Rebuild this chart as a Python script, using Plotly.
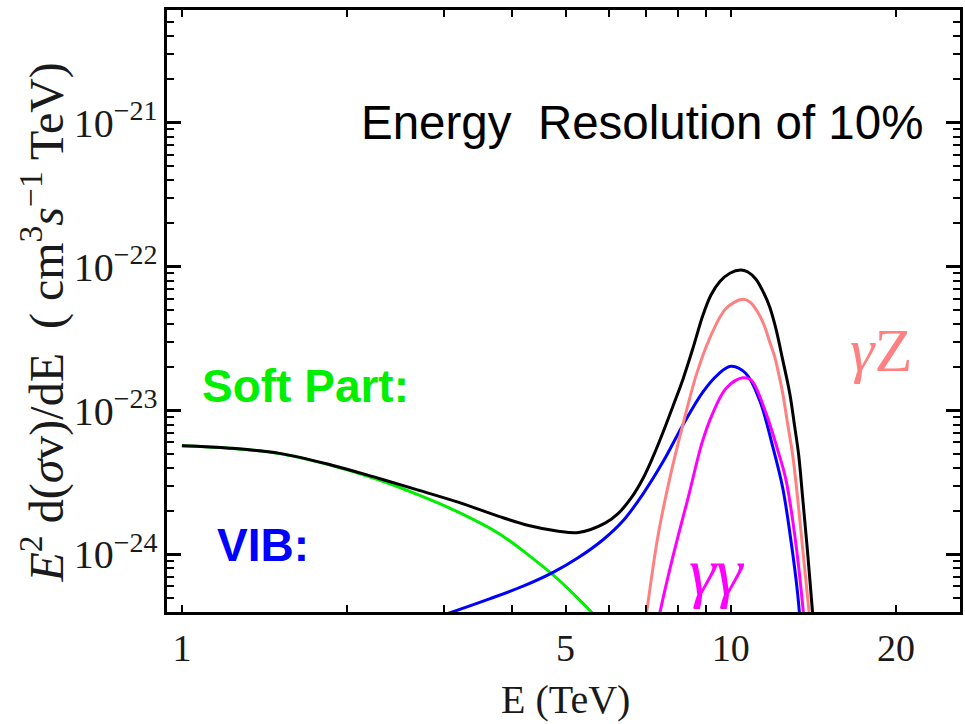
import plotly.graph_objects as go

# Photon energy (TeV) and E^2 d(sigma v)/dE (cm^3 s^-1 TeV) for each spectral component
total_E = [1.00, 1.222, 1.506, 1.856, 2.288, 2.704, 3.195, 3.777, 4.280, 4.853, 5.276,
           5.900, 6.236, 6.584, 6.924, 7.219, 7.527, 7.848, 8.183, 8.531, 8.896, 9.199, 9.550,
           9.958, 10.42, 10.74, 11.10, 11.48, 11.77, 12.07, 12.43, 12.80, 13.07, 13.29, 13.51,
           13.80, 14.09, 14.32]
total_v = [5.70e-24, 5.48e-24, 5.04e-24, 4.22e-24, 3.37e-24, 2.79e-24, 2.30e-24, 1.84e-24,
           1.59e-24, 1.45e-24, 1.42e-24, 1.65e-24, 1.93e-24, 2.47e-24, 3.40e-24,
           4.80e-24, 7.10e-24, 1.08e-23, 1.66e-23, 2.72e-23, 4.61e-23, 6.35e-23, 7.89e-23,
           9.01e-23, 9.48e-23, 9.19e-23, 8.21e-23, 6.56e-23, 5.25e-23, 3.75e-23, 2.25e-23,
           1.32e-23, 7.73e-24, 4.91e-24, 2.51e-24, 1.02e-24, 3.90e-25, 1.85e-25]

soft_E = [1.00, 1.222, 1.506, 1.856, 2.288, 2.704, 3.195, 3.777, 4.280, 4.853, 5.387, 5.857]
soft_v = [5.70e-24, 5.48e-24, 5.02e-24, 4.19e-24, 3.29e-24, 2.58e-24, 1.96e-24, 1.40e-24,
          9.89e-25, 6.67e-25, 4.53e-25, 3.24e-25]

vib_E = [2.704, 3.130, 3.622, 4.194, 4.753, 5.276, 5.857, 6.368, 6.924, 7.527, 8.183, 8.896,
         9.471, 10.00, 10.65, 11.29, 11.92, 12.43, 12.85, 13.23, 13.45]
vib_v = [3.34e-25, 4.02e-25, 4.89e-25, 6.04e-25, 7.53e-25, 9.51e-25, 1.27e-24, 1.72e-24,
         2.65e-24, 4.42e-24, 7.98e-24, 1.35e-23, 1.78e-23, 2.03e-23, 1.81e-23, 1.17e-23,
         5.61e-24, 2.90e-24, 1.29e-24, 5.37e-25, 2.55e-25]

gz_E = [6.924, 7.021, 7.372, 7.750, 8.149, 8.650, 9.149, 9.806, 10.51, 10.83, 11.19, 11.53,
        11.77, 12.02, 12.22, 12.43, 12.69, 12.96, 13.23, 13.51, 13.89, 14.09]
gz_v = [2.55e-25, 3.90e-25, 1.37e-24, 3.46e-24, 7.57e-24, 1.77e-23, 3.18e-23, 5.14e-23,
        5.93e-23, 5.69e-23, 4.84e-23, 3.81e-23, 3.00e-23, 2.36e-23, 1.80e-23, 1.32e-23,
        8.07e-24, 4.91e-24, 2.47e-24, 1.11e-24, 3.90e-25, 2.10e-25]

gg_E = [7.278, 7.43, 7.815, 8.391, 8.859, 9.237, 9.806, 10.51, 10.89, 11.59, 12.17, 12.60,
        13.07, 13.56, 13.68]
gg_v = [2.67e-25, 3.98e-25, 9.16e-25, 2.63e-24, 5.96e-24, 9.31e-24, 1.43e-23, 1.69e-23,
        1.63e-23, 9.57e-24, 5.32e-24, 3.30e-24, 1.37e-24, 3.90e-25, 2.55e-25]

x_tick_vals = [1, 5, 10, 20]
x_tick_text = ["1", "5", "10", "20"]
x_minor_vals = [2, 3, 4, 6, 7, 8, 9]
x_major_long = [1, 10]

SERIF = "Liberation Serif"
SANS = "Liberation Sans"

series = [
    (soft_E, soft_v, "#00ee00", "Soft Part"),
    (vib_E, vib_v, "#0000ff", "VIB"),
    (gz_E, gz_v, "#ff8080", "γZ"),
    (gg_E, gg_v, "#ff00ff", "γγ"),
    (total_E, total_v, "#000000", "Total"),
]

fig = go.Figure()
for xs, ys, col, name in series:
    fig.add_trace(go.Scatter(
        x=xs, y=ys, mode="lines", name=name,
        line=dict(color=col, width=3, shape="spline", smoothing=1.0),
    ))

x_range = [-0.0272, 1.4174]
y_range = [-24.40, -20.216]

fig.update_layout(
    width=965, height=724,
    margin=dict(l=167, r=2, t=10, b=112),
    plot_bgcolor="white", paper_bgcolor="white",
    showlegend=False,
    xaxis=dict(
        type="log", range=x_range,
        tickmode="array", tickvals=x_tick_vals, ticktext=x_tick_text,
        ticks="inside", ticklen=7, tickwidth=2, tickcolor="black",
        showline=True, linecolor="black", linewidth=3, mirror="allticks",
        showgrid=False, zeroline=False,
        tickfont=dict(family=SERIF, size=38, color="#1a1a1a"),
        ticklabelstandoff=0,
        minor=dict(tickmode="array", tickvals=x_minor_vals, ticks="inside",
                   ticklen=7, tickwidth=2, tickcolor="black", showgrid=False),
    ),
    xaxis2=dict(
        type="log", range=x_range, overlaying="x", anchor="y", side="bottom",
        tickmode="array", tickvals=x_major_long,
        ticks="inside", ticklen=14, tickwidth=2.5, tickcolor="black",
        showticklabels=False, showline=True, linecolor="black", linewidth=3,
        mirror="allticks", showgrid=False, zeroline=False,
    ),
    yaxis=dict(
        type="log", range=y_range, dtick=1,
        exponentformat="power", showexponent="all",
        ticks="inside", ticklen=14, tickwidth=2.5, tickcolor="black",
        showline=True, linecolor="black", linewidth=3, mirror="allticks",
        showgrid=False, zeroline=False,
        tickfont=dict(family=SERIF, size=32, color="#1a1a1a"),
        minor=dict(dtick="D1", ticks="inside", ticklen=7, tickwidth=2,
                   tickcolor="black", showgrid=False),
    ),
)

def px_x(p):
    return (p - 167) / 796

def px_y(p):
    return (612 - p) / 602

annotations = [
    dict(text="Energy\u00a0\u00a0Resolution of 10%", x=px_x(360), y=px_y(122),
         xanchor="left", yanchor="middle",
         font=dict(family=SANS, size=47.5, color="black")),
    dict(text="<b>Soft Part:</b>", x=px_x(200), y=px_y(386),
         xanchor="left", yanchor="middle",
         font=dict(family=SANS, size=46, color="#00ee00")),
    dict(text="<b>VIB:</b>", x=px_x(215), y=px_y(545),
         xanchor="left", yanchor="middle",
         font=dict(family=SANS, size=46, color="#0000ff")),
    dict(text="<i>γ</i>Z", x=px_x(851), y=px_y(350),
         xanchor="left", yanchor="middle",
         font=dict(family=SERIF, size=62, color="#ff8080")),
    dict(text="<i>γγ</i>", x=px_x(689), y=px_y(572),
         xanchor="left", yanchor="middle",
         font=dict(family=SERIF, size=68, color="#ff00ff")),
    dict(text="E (TeV)", x=px_x(567), y=px_y(699),
         xanchor="center", yanchor="middle",
         font=dict(family=SERIF, size=40, color="#1a1a1a")),
    dict(text="<i>E</i><sup>2</sup> d(<i>σ</i>v)/dE\u00a0\u00a0(\u00a0cm<sup>3</sup><i>s</i><sup>−1</sup> TeV)",
         x=px_x(42), y=px_y(322), textangle=-90,
         xanchor="center", yanchor="middle",
         font=dict(family=SERIF, size=48, color="#1a1a1a")),
]
for a in annotations:
    a.update(xref="paper", yref="paper", showarrow=False)
fig.update_layout(annotations=annotations)

fig.write_html("out.html")
